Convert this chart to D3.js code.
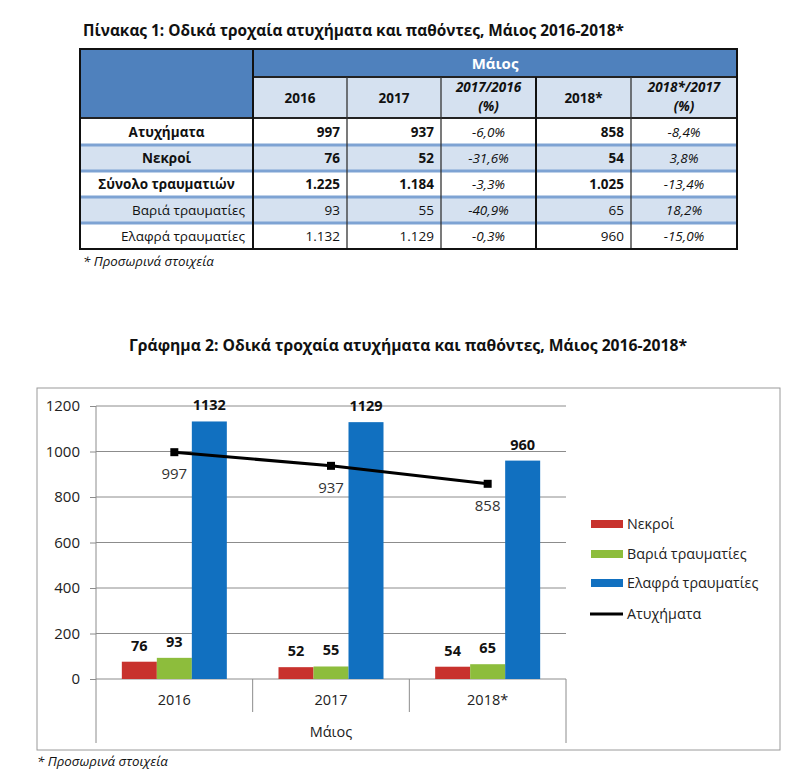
<!DOCTYPE html>
<html><head><meta charset="utf-8">
<script src="https://cdn.jsdelivr.net/npm/d3@7"></script>
<style>
html,body{margin:0;padding:0;background:#fff;}
svg{display:block;font-family:"Open Sans","Noto Sans",sans-serif;}
</style></head>
<body>
<svg id="c" width="800" height="779"></svg>
<script>
// ---------- DATA ----------
const tableTitle = "Πίνακας 1: Οδικά τροχαία ατυχήματα και παθόντες, Μάιος 2016-2018*";
const chartTitle = "Γράφημα 2: Οδικά τροχαία ατυχήματα και παθόντες, Μάιος 2016-2018*";
const monthLabel = "Μάιος";
const footnote = "* Προσωρινά στοιχεία";
const colHeaders = ["2016", "2017", "2017/2016|(%)", "2018*", "2018*/2017|(%)"];
const rowLabels = ["Ατυχήματα", "Νεκροί", "Σύνολο τραυματιών", "Βαριά τραυματίες", "Ελαφρά τραυματίες"];
const rowBold = [true, true, true, false, false];
const v2016 = [997, 76, 1225, 93, 1132];
const v2017 = [937, 52, 1184, 55, 1129];
const ch1716 = [-6.0, -31.6, -3.3, -40.9, -0.3];
const v2018 = [858, 54, 1025, 65, 960];
const ch1817 = [-8.4, 3.8, -13.4, 18.2, -15.0];

const years = ["2016", "2017", "2018*"];
const seriesNames = ["Νεκροί", "Βαριά τραυματίες", "Ελαφρά τραυματίες"];
const nekroi = [76, 52, 54];
const variaTr = [93, 55, 65];
const elafraTr = [1132, 1129, 960];
const lineName = "Ατυχήματα";
const atyxhmata = [997, 937, 858];
const yTicks = [0, 200, 400, 600, 800, 1000, 1200];

// ---------- SETUP ----------
const loc = d3.formatLocale({decimal: ",", thousands: ".", grouping: [3], currency: ["", "€"], minus: "-"});
const fInt = loc.format(",d");
const fPct = v => loc.format(",.1f")(v) + "%";
const svg = d3.select("#c");
const FONT = '"Open Sans","Noto Sans",sans-serif';

// ---------- TABLE ----------
svg.append("text").attr("x", 83).attr("y", 36).attr("font-size", 15.4).attr("font-weight", "bold")
  .attr("fill", "#111").text(tableTitle);

const colX = [80, 253, 347, 441, 536, 631, 737];
const rowY = [118, 145, 171, 197, 223, 249];
const tTop = 49, tMid = 77;
const hdrBlue = "#4f81bd", light = "#d5e1f0", sepBlue = "#7ea3d3";
const TF = 13.5;

svg.append("rect").attr("x", colX[0]).attr("y", tTop).attr("width", colX[1] - colX[0]).attr("height", rowY[0] - tTop).attr("fill", hdrBlue);
svg.append("rect").attr("x", colX[1]).attr("y", tTop).attr("width", colX[6] - colX[1]).attr("height", tMid - tTop).attr("fill", hdrBlue);
svg.append("rect").attr("x", colX[1]).attr("y", tMid).attr("width", colX[6] - colX[1]).attr("height", rowY[0] - tMid).attr("fill", light);
svg.append("text").attr("x", (colX[1] + colX[6]) / 2).attr("y", tMid - 8).attr("text-anchor", "middle")
  .attr("font-size", 15).attr("font-weight", "bold").attr("fill", "#fff").text(monthLabel);

colHeaders.forEach((h, i) => {
  const parts = h.split("|");
  const cx = (colX[i + 1] + colX[i + 2]) / 2;
  const italic = parts.length > 1;
  parts.forEach((p, j) => {
    svg.append("text").attr("x", cx)
      .attr("y", parts.length > 1 ? tMid + 15 + j * 19 : (tMid + rowY[0]) / 2 + 5)
      .attr("text-anchor", "middle").attr("font-size", TF).attr("font-weight", "bold")
      .attr("font-style", italic ? "italic" : "normal").attr("fill", "#111").text(p);
  });
});

rowLabels.forEach((lab, r) => {
  const y0 = rowY[r], y1 = rowY[r + 1];
  if (r % 2 === 1) svg.append("rect").attr("x", colX[0]).attr("y", y0).attr("width", colX[6] - colX[0]).attr("height", y1 - y0).attr("fill", light);
  const ty = (y0 + y1) / 2 + 5;
  const b = rowBold[r] ? "bold" : "normal";
  if (rowBold[r]) {
    svg.append("text").attr("x", (colX[0] + colX[1]) / 2).attr("y", ty).attr("text-anchor", "middle")
      .attr("font-size", TF).attr("font-weight", b).attr("fill", "#111").text(lab);
  } else {
    svg.append("text").attr("x", colX[1] - 8).attr("y", ty).attr("text-anchor", "end")
      .attr("font-size", TF).attr("fill", "#111").text(lab);
  }
  const cells = [[fInt(v2016[r]), "end"], [fInt(v2017[r]), "end"], [fPct(ch1716[r]), "mid"], [fInt(v2018[r]), "end"], [fPct(ch1817[r]), "mid"]];
  cells.forEach((c, i) => {
    const t = svg.append("text").attr("y", ty).attr("font-size", TF).attr("fill", "#111");
    if (c[1] === "end") t.attr("x", colX[i + 2] - 7).attr("text-anchor", "end").attr("font-weight", b);
    else t.attr("x", (colX[i + 1] + colX[i + 2]) / 2).attr("text-anchor", "middle").attr("font-style", "italic");
    t.text(c[0]);
  });
});
// row separators
rowY.slice(0, 5).forEach((y, i) => {
  if (i === 0) return;
  svg.append("line").attr("x1", colX[0]).attr("x2", colX[6]).attr("y1", y).attr("y2", y).attr("stroke", sepBlue).attr("stroke-width", 3);
});
svg.append("line").attr("x1", colX[0]).attr("x2", colX[6]).attr("y1", rowY[0]).attr("y2", rowY[0]).attr("stroke", "#222").attr("stroke-width", 2);
svg.append("line").attr("x1", colX[1]).attr("x2", colX[6]).attr("y1", tMid).attr("y2", tMid).attr("stroke", "#222").attr("stroke-width", 2);
// verticals
[2, 3, 5].forEach(i => svg.append("line").attr("x1", colX[i]).attr("x2", colX[i]).attr("y1", tMid).attr("y2", rowY[5]).attr("stroke", "#333").attr("stroke-width", 1.3));
[1, 4].forEach(i => svg.append("line").attr("x1", colX[i]).attr("x2", colX[i]).attr("y1", i === 1 ? tTop : tMid).attr("y2", rowY[5]).attr("stroke", "#111").attr("stroke-width", 2));
svg.append("rect").attr("x", colX[0]).attr("y", tTop).attr("width", colX[6] - colX[0]).attr("height", rowY[5] - tTop)
  .attr("fill", "none").attr("stroke", "#111").attr("stroke-width", 2);
svg.append("text").attr("x", 83).attr("y", 266).attr("font-size", 13.3).attr("font-style", "italic").attr("fill", "#111").text(footnote);

// ---------- CHART ----------
svg.append("text").attr("x", 408).attr("y", 351).attr("text-anchor", "middle").attr("font-size", 15.7)
  .attr("font-weight", "bold").attr("fill", "#111").text(chartTitle);
svg.append("rect").attr("x", 37).attr("y", 388).attr("width", 743).attr("height", 362).attr("fill", "#fff").attr("stroke", "#9a9a9a");

const x = d3.scaleBand().domain(years).range([96, 566]);
const y = d3.scaleLinear().domain([0, 1200]).range([679, 406]);
const sub = d3.scaleBand().domain(seriesNames).range([-52.5, 52.5]);
const colors = ["#c8322d", "#8dbd3c", "#1170c0"];
const seriesVals = [nekroi, variaTr, elafraTr];

// grid
svg.append("g").selectAll("line").data(yTicks).join("line")
  .attr("x1", 96).attr("x2", 566).attr("y1", d => y(d)).attr("y2", d => y(d)).attr("stroke", "#8c8c8c").attr("stroke-width", 1);
// y axis
const yAx = svg.append("g").attr("transform", "translate(96,0)")
  .call(d3.axisLeft(y).tickValues(yTicks).tickSize(6).tickPadding(10).tickFormat(d3.format("d")));
yAx.select(".domain").remove();
yAx.selectAll("line").attr("stroke", "#8c8c8c");
yAx.selectAll("text").attr("font-size", 15).attr("font-family", FONT).attr("fill", "#222");
svg.append("line").attr("x1", 96).attr("x2", 96).attr("y1", y(1200)).attr("y2", 743).attr("stroke", "#8c8c8c");
svg.append("line").attr("x1", 566).attr("x2", 566).attr("y1", y(0)).attr("y2", 743).attr("stroke", "#8c8c8c");
years.slice(1).forEach(yr => svg.append("line").attr("x1", x(yr)).attr("x2", x(yr)).attr("y1", y(0)).attr("y2", 712).attr("stroke", "#8c8c8c"));
// category labels
svg.append("g").selectAll("text").data(years).join("text")
  .attr("x", d => x(d) + x.bandwidth() / 2).attr("y", 705).attr("text-anchor", "middle")
  .attr("font-size", 14.5).attr("fill", "#222").text(d => d);
svg.append("text").attr("x", 331).attr("y", 737).attr("text-anchor", "middle").attr("font-size", 14.5).attr("fill", "#222").text(monthLabel);

// bars
seriesNames.forEach((s, si) => {
  const g = svg.append("g");
  g.selectAll("rect").data(years).join("rect")
    .attr("x", (d) => x(d) + x.bandwidth() / 2 + sub(s)).attr("width", sub.bandwidth())
    .attr("y", (d, i) => y(seriesVals[si][i])).attr("height", (d, i) => y(0) - y(seriesVals[si][i]))
    .attr("fill", colors[si]);
  g.selectAll("text").data(years).join("text")
    .attr("x", d => x(d) + x.bandwidth() / 2 + sub(s) + sub.bandwidth() / 2)
    .attr("y", (d, i) => y(seriesVals[si][i]) - 11).attr("text-anchor", "middle")
    .attr("font-size", 14.5).attr("font-weight", "bold").attr("fill", "#111").text((d, i) => seriesVals[si][i]);
});

// line
const cx = d => x(d) + x.bandwidth() / 2;
svg.append("path").datum(years).attr("fill", "none").attr("stroke", "#000").attr("stroke-width", 3)
  .attr("d", d3.line().x(d => cx(d)).y((d, i) => y(atyxhmata[i])));
svg.append("g").selectAll("rect").data(years).join("rect")
  .attr("x", d => cx(d) - 4).attr("y", (d, i) => y(atyxhmata[i]) - 4).attr("width", 8).attr("height", 8).attr("fill", "#000");
svg.append("g").selectAll("text").data(years).join("text")
  .attr("x", d => cx(d)).attr("y", (d, i) => y(atyxhmata[i]) + 27).attr("text-anchor", "middle")
  .attr("font-size", 15).attr("fill", "#333").text((d, i) => atyxhmata[i]);

// legend
const legY = [524, 554, 583, 614];
seriesNames.forEach((s, i) => {
  svg.append("rect").attr("x", 591).attr("y", legY[i] - 4).attr("width", 32).attr("height", 8).attr("fill", colors[i]);
  svg.append("text").attr("x", 627).attr("y", legY[i] + 5).attr("font-size", 14.3).attr("fill", "#222").text(s);
});
svg.append("line").attr("x1", 590).attr("x2", 623).attr("y1", legY[3]).attr("y2", legY[3]).attr("stroke", "#000").attr("stroke-width", 3);
svg.append("text").attr("x", 627).attr("y", legY[3] + 5).attr("font-size", 14.3).attr("fill", "#222").text(lineName);

svg.append("text").attr("x", 37).attr("y", 766).attr("font-size", 13.3).attr("font-style", "italic").attr("fill", "#111").text(footnote);
</script>
</body></html>
